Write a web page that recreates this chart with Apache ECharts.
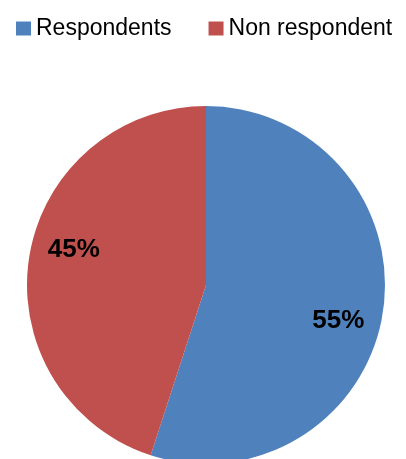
<!DOCTYPE html>
<html>
<head>
<meta charset="utf-8">
<script src="https://cdn.jsdelivr.net/npm/echarts@6/dist/echarts.min.js"></script>
<style>
  html, body { margin: 0; padding: 0; background: #fff; }
  #chart { width: 406px; height: 459px; }
</style>
</head>
<body>
<div id="chart"></div>
<script>
// Survey response split
const categories = ['Respondents', 'Non respondent'];
const shares = [55, 45];
const colors = ['#4F81BD', '#C0504D'];

const center = [206, 285];
const radius = 179;
// labels sit further out than ECharts' default half-radius "inside" spot,
// and swung a little clockwise around the centre
const labelPush = 1.48;
const labelTurn = 6 * Math.PI / 180;

const chart = echarts.init(document.getElementById('chart'), null, { renderer: 'canvas' });

chart.setOption({
  animation: false,
  backgroundColor: '#ffffff',
  legend: {
    data: categories,
    left: 11,
    top: 12,
    icon: 'rect',
    itemWidth: 15,
    itemHeight: 14,
    itemGap: 37,
    textStyle: {
      fontFamily: 'Liberation Sans, Arial, sans-serif',
      fontSize: 23,
      color: '#000'
    }
  },
  series: [{
    type: 'pie',
    center: center,
    radius: radius,
    startAngle: 90,
    clockwise: true,
    silent: true,
    data: categories.map((name, i) => ({
      name: name,
      value: shares[i],
      itemStyle: { color: colors[i] }
    })),
    label: {
      show: true,
      position: 'inside',
      formatter: p => p.value + '%',
      fontFamily: 'Liberation Sans, Arial, sans-serif',
      fontWeight: 'bold',
      fontSize: 26,
      color: '#000'
    },
    labelLine: { show: false },
    labelLayout: function (params) {
      const r = params.labelRect;
      const vx = (r.x + r.width / 2 - center[0]) * labelPush;
      const vy = (r.y + r.height / 2 - center[1]) * labelPush;
      const c = Math.cos(labelTurn), s = Math.sin(labelTurn);
      const nx = vx * c - vy * s;
      const ny = vx * s + vy * c;
      return {
        dx: nx - (r.x + r.width / 2 - center[0]),
        dy: ny - (r.y + r.height / 2 - center[1])
      };
    }
  }]
});
</script>
</body>
</html>
